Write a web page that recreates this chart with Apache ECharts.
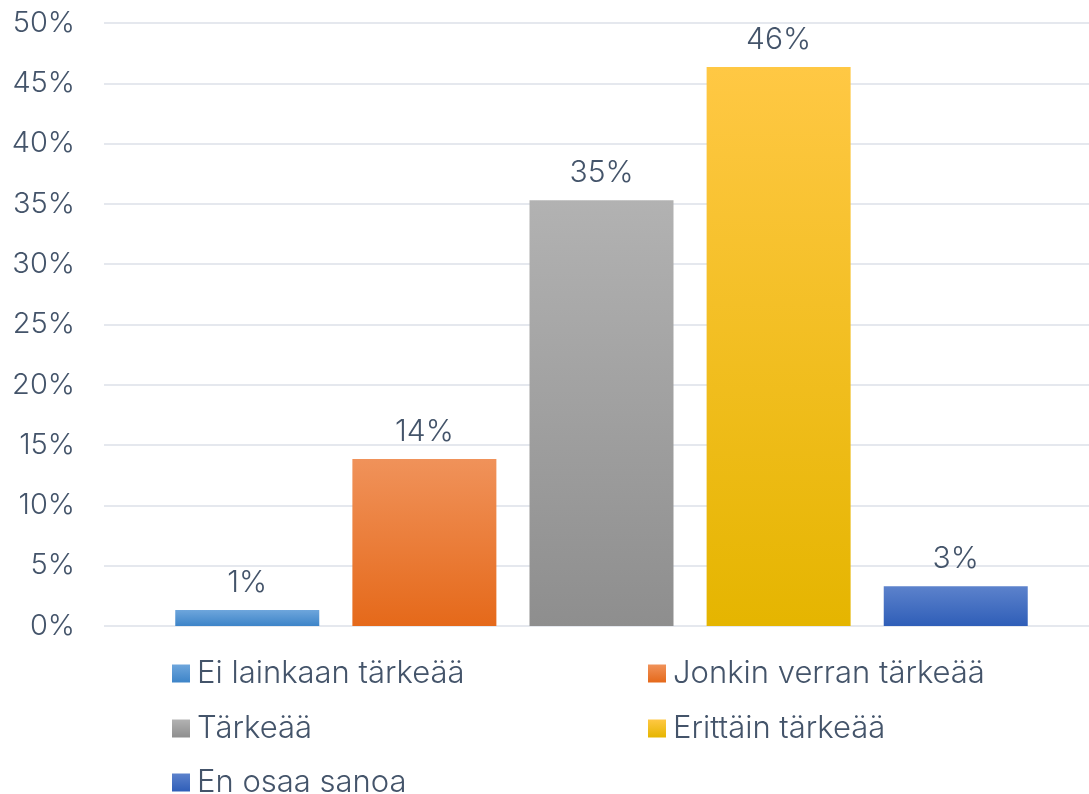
<!DOCTYPE html>
<html>
<head>
<meta charset="utf-8">
<script src="https://cdn.jsdelivr.net/npm/echarts@6/dist/echarts.min.js"></script>
<style>
  html, body { margin: 0; padding: 0; background: #fff; }
  #chart { width: 1089px; height: 794px; }
</style>
</head>
<body>
<div id="chart"></div>
<script>
// sarjat (yksi pylväs kukin)
var seriesNames = ['Ei lainkaan tärkeää', 'Jonkin verran tärkeää', 'Tärkeää', 'Erittäin tärkeää', 'En osaa sanoa'];
var seriesValues = [1.33, 13.85, 35.3, 46.35, 3.3];
var yTicks = [0, 5, 10, 15, 20, 25, 30, 35, 40, 45, 50];
// gradientit ylhäältä alas
var topColors = ['#6ea6dc', '#f0925a', '#b2b2b2', '#ffc844', '#5c82cc'];
var bottomColors = ['#3d84c8', '#e5691a', '#8e8e8e', '#e5b500', '#2f5eb8'];

var textColor = '#44546a';
var fontName = 'Inter';
var chart = echarts.init(document.getElementById('chart'));

var series = [];
seriesNames.forEach(function(name, i) {
    series.push({
        name: name,
        type: 'bar',
        data: [seriesValues[i]],
        barWidth: 144,
        barGap: '23%',
        itemStyle: {
            color: new echarts.graphic.LinearGradient(0, 0, 0, 1, [
                { offset: 0, color: topColors[i] },
                { offset: 1, color: bottomColors[i] }
            ])
        },
        label: {
            show: true,
            position: 'top',
            distance: 12,
            color: textColor,
            fontFamily: fontName,
            fontWeight: 300,
            fontSize: 30,
            formatter: function(p) { return Math.round(p.value) + '%'; }
        }
    });
});

// legenda: kaksi saraketta, yksi komponentti per kohde
var legendPos = [[172, 658], [648, 658], [172, 713], [648, 713], [172, 767]];
var legends = seriesNames.map(function(name, i) {
    return {
        data: [name],
        left: legendPos[i][0],
        top: legendPos[i][1],
        padding: 0,
        icon: 'rect',
        itemWidth: 18,
        itemHeight: 18,
        itemGap: 0,
        textStyle: {
            color: textColor,
            fontFamily: fontName,
            fontWeight: 300,
            fontSize: 31,
            padding: [0, 0, 0, 2]
        }
    };
});

var option = {
    animation: false,
    legend: legends,
    grid: {
        left: 104,
        right: -10,
        top: 23,
        bottom: 168,
        outerBoundsMode: 'none'
    },
    xAxis: {
        type: 'category',
        data: [''],
        axisLine: { show: false },
        axisTick: { show: false },
        axisLabel: { show: false }
    },
    yAxis: {
        type: 'value',
        min: yTicks[0],
        max: yTicks[yTicks.length - 1],
        interval: 5,
        axisLine: { show: false },
        axisTick: { show: false },
        axisLabel: {
            margin: 29,
            color: textColor,
            fontFamily: fontName,
            fontWeight: 300,
            fontSize: 29,
            formatter: '{value}%'
        },
        splitLine: {
            lineStyle: { color: '#dde1e8', width: 1.5 }
        }
    },
    series: series
};
chart.setOption(option);
</script>
</body>
</html>
